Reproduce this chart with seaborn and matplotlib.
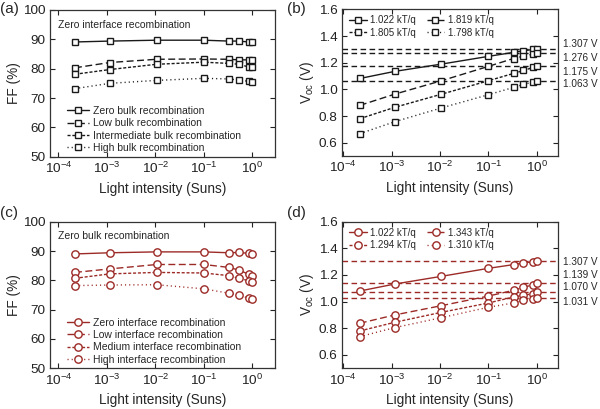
import numpy as np
import pandas as pd
import matplotlib
matplotlib.use("Agg")
import matplotlib.pyplot as plt
import matplotlib.ticker as mticker
import seaborn as sns

sns.set_theme(style="ticks")
plt.rcParams['font.family'] = ['Liberation Sans', 'DejaVu Sans']
plt.rcParams['mathtext.default'] = 'regular'
plt.rcParams['mathtext.fontset'] = 'custom'
plt.rcParams['mathtext.rm'] = 'Liberation Sans'

# ---------------- data ----------------
intensity = [2.2e-4, 1.15e-3, 1.07e-2, 0.1, 0.33, 0.53, 0.84, 1.0]

# (a) FF, zero interface recombination, varying bulk recombination
ff_a_labels = ["Zero bulk recombination", "Low bulk recombination",
               "Intermediate bulk recombination", "High bulk recombination"]
ff_a_zero = [89.1, 89.4, 89.7, 89.7, 89.4, 89.4, 89.1, 89.0]
ff_a_low = [80.3, 82.1, 83.2, 83.3, 83.2, 83.0, 83.0, 83.0]
ff_a_inter = [78.1, 79.7, 81.5, 82.2, 81.8, 81.5, 80.6, 80.4]
ff_a_high = [73.2, 75.0, 76.0, 76.7, 76.5, 76.1, 75.7, 75.5]

# (b) Voc, zero interface recombination
voc_b_labels = ["1.022 kT/q", "1.819 kT/q", "1.805 kT/q", "1.798 kT/q"]
voc_b_zero = [1.082, 1.135, 1.190, 1.248, 1.278, 1.290, 1.300, 1.307]
voc_b_low = [0.880, 0.964, 1.065, 1.173, 1.232, 1.250, 1.265, 1.276]
voc_b_inter = [0.780, 0.865, 0.964, 1.065, 1.120, 1.142, 1.165, 1.175]
voc_b_high = [0.668, 0.757, 0.861, 0.960, 1.015, 1.037, 1.055, 1.063]
voc_b_ref = [1.307, 1.276, 1.175, 1.063]
voc_b_ref_labels = ["1.307 V", "1.276 V", "1.175 V", "1.063 V"]

# (c) FF, zero bulk recombination, varying interface recombination
ff_c_labels = ["Zero interface recombination", "Low interface recombination",
               "Medium interface recombination", "High interface recombination"]
ff_c_zero = [89.0, 89.4, 89.7, 89.7, 89.4, 89.5, 89.2, 89.0]
ff_c_low = [82.7, 83.9, 85.4, 85.4, 84.4, 83.5, 82.1, 81.6]
ff_c_med = [80.7, 82.2, 82.7, 82.5, 81.6, 80.7, 79.9, 79.4]
ff_c_high = [78.2, 78.4, 78.5, 77.1, 75.6, 75.0, 73.9, 73.5]

# (d) Voc, zero bulk recombination
voc_d_labels = ["1.022 kT/q", "1.343 kT/q", "1.294 kT/q", "1.310 kT/q"]
voc_d_zero = [1.080, 1.132, 1.190, 1.250, 1.278, 1.290, 1.300, 1.307]
voc_d_low = [0.838, 0.900, 0.970, 1.042, 1.085, 1.107, 1.127, 1.139]
voc_d_med = [0.780, 0.845, 0.920, 0.990, 1.035, 1.048, 1.060, 1.070]
voc_d_high = [0.738, 0.805, 0.880, 0.958, 0.990, 1.010, 1.022, 1.031]
voc_d_ref = [1.307, 1.139, 1.070, 1.031]
voc_d_ref_labels = ["1.307 V", "1.139 V", "1.070 V", "1.031 V"]

# ---------------- styles ----------------
BLACK = "#1a1a1a"
RED = "#9c2b27"
line_styles = ["-", (0, (5, 2.5)), (0, (2.2, 1.3)), (0, (0.8, 2.2))]
ref_offsets_b = [3.0, -4.0, -4.5, -2.5]   # label offsets (pt) for right-hand texts
ref_offsets_d = [-1.0, 6.0, 3.5, -3.0]

fig = plt.figure(figsize=(6.0, 4.09), dpi=100)
ax_a = fig.add_axes([0.0833, 0.6169, 0.375, 0.3587])
ax_b = fig.add_axes([0.5695, 0.6186, 0.3613, 0.3582])
ax_c = fig.add_axes([0.0833, 0.0995, 0.375, 0.3585])
ax_d = fig.add_axes([0.5695, 0.0995, 0.3613, 0.3585])


def draw_series(ax, ys, labels, color, marker, ms):
    for y, lab, ls in zip(ys, labels, line_styles):
        df = pd.DataFrame({"x": intensity, "y": y})
        sns.lineplot(data=df, x="x", y="y", ax=ax, color=color, linestyle=ls,
                     linewidth=1.0, marker=marker, markersize=ms,
                     markerfacecolor="white", markeredgecolor=color,
                     markeredgewidth=1.0, label=lab, zorder=3,
                     estimator=None, sort=False)


def style_axis(ax, xlim, ylim, yticks, yfmt, ylabel):
    ax.set_xscale("log")
    ax.set_xlim(*xlim)
    ax.set_ylim(*ylim)
    ax.xaxis.set_major_locator(mticker.FixedLocator([1e-4, 1e-3, 1e-2, 1e-1, 1e0]))
    ax.xaxis.set_minor_locator(mticker.NullLocator())
    ax.xaxis.set_major_formatter(mticker.LogFormatterSciNotation())
    ax.set_yticks(yticks)
    ax.yaxis.set_major_formatter(mticker.FormatStrFormatter(yfmt))
    ax.tick_params(direction="in", top=True, right=True, length=3.5,
                   width=0.8, labelsize=9.7, pad=3, colors="#222222")
    for s in ax.spines.values():
        s.set_linewidth(0.9)
        s.set_color("#333333")
    ax.set_xlabel("Light intensity (Suns)", fontsize=9.8, labelpad=4)
    ax.set_ylabel(ylabel, fontsize=9.8, labelpad=2)


def ff_panel(ax, ys, labels, color, marker, ms, note):
    draw_series(ax, ys, labels, color, marker, ms)
    style_axis(ax, (6.7e-5, 2.95), (50, 100), [50, 60, 70, 80, 90, 100], "%d", "FF (%)")
    ax.text(0.035, 0.9, note, transform=ax.transAxes,
            fontsize=7.5, va="center", ha="left")
    ax.legend(loc="lower left", bbox_to_anchor=(0.075, 0.025), frameon=False,
              fontsize=7.5, handlelength=2.1, handletextpad=0.45, labelspacing=0.22,
              borderpad=0.0, borderaxespad=0.0)


ff_panel(ax_a, [ff_a_zero, ff_a_low, ff_a_inter, ff_a_high], ff_a_labels,
         BLACK, "s", 4.8, "Zero interface recombination")
ff_panel(ax_c, [ff_c_zero, ff_c_low, ff_c_med, ff_c_high], ff_c_labels,
         RED, "o", 5.3, "Zero bulk recombination")


def voc_panel(ax, ys, labels, color, marker, ms, refs, ref_labels, offsets):
    for r in refs:
        ax.axhline(r, color=color, linestyle=(0, (4, 2.5)), linewidth=1.0, zorder=1)
    draw_series(ax, ys, labels, color, marker, ms)
    style_axis(ax, (9.3e-5, 2.8), (0.5, 1.6), [0.6, 0.8, 1.0, 1.2, 1.4, 1.6],
               "%.1f", r"V$_{\mathregular{oc}}$ (V)")
    for r, lab, off in zip(refs, ref_labels, offsets):
        ax.annotate(lab, xy=(1.0, r), xycoords=("axes fraction", "data"),
                    xytext=(3, off), textcoords="offset points",
                    fontsize=7.2, va="center", ha="left", annotation_clip=False)
    h, l = ax.get_legend_handles_labels()
    order = [0, 2, 1, 3]
    ax.legend([h[i] for i in order], [l[i] for i in order],
              loc="upper left", bbox_to_anchor=(0.035, 0.96), frameon=False,
              ncol=2, fontsize=7, handlelength=1.8, handletextpad=0.35,
              columnspacing=1.1, labelspacing=0.25, borderpad=0.0,
              borderaxespad=0.0)


voc_panel(ax_b, [voc_b_zero, voc_b_low, voc_b_inter, voc_b_high], voc_b_labels,
          BLACK, "s", 4.8, voc_b_ref, voc_b_ref_labels, ref_offsets_b)
voc_panel(ax_d, [voc_d_zero, voc_d_low, voc_d_med, voc_d_high], voc_d_labels,
          RED, "o", 5.3, voc_d_ref, voc_d_ref_labels, ref_offsets_d)

# panel labels
for lab, x, y in [("(a)", 0.0, 0.978), ("(b)", 0.478, 0.978),
                  ("(c)", 0.0, 0.478), ("(d)", 0.478, 0.478)]:
    fig.text(x, y, lab, fontsize=11, ha="left", va="center")

fig.savefig("out.png", dpi=100)
